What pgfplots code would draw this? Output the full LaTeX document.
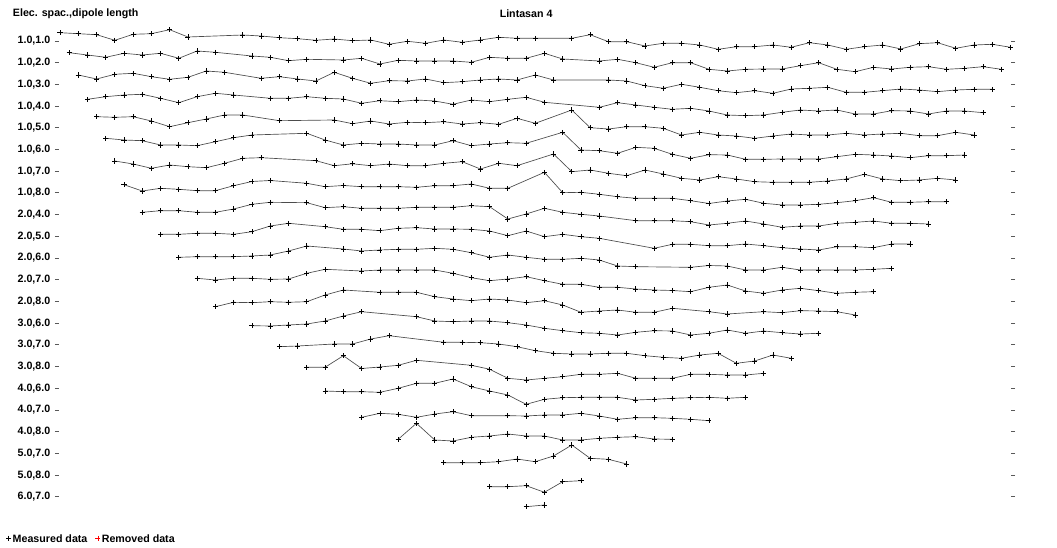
\documentclass[border=0pt]{standalone}
\usepackage{pgfplots}
\pgfplotsset{compat=1.18}
\usepackage{fontspec}
\setmainfont{Liberation Sans}
\newcommand{\lf}{\bfseries\fontsize{8}{9}\selectfont}
\tikzset{ln/.style={line width=0.5pt, black!70, mark=+, mark size=1.9pt, mark options={black, line width=0.6pt, solid}}}
\begin{document}
\begin{tikzpicture}
\begin{axis}[
  scale only axis,
  width=714pt, height=367.5pt,
  xmin=1.4453, xmax=53.524,
  ymin=25, ymax=515, y dir=reverse,
  clip=false,
  axis line style={draw=none},
  xtick=\empty,
  ytick={41,62.71,84.42,106.13,127.84,149.55,171.26,192.97,214.68,236.39,258.1,279.81,301.52,323.23,344.94,366.65,388.36,410.07,431.78,453.49,475.2,496.91},
  yticklabels={{1.0,1.0},{1.0,2.0},{1.0,3.0},{1.0,4.0},{1.0,5.0},{1.0,6.0},{1.0,7.0},{1.0,8.0},{2.0,4.0},{2.0,5.0},{2.0,6.0},{2.0,7.0},{2.0,8.0},{3.0,6.0},{3.0,7.0},{3.0,8.0},{4.0,6.0},{4.0,7.0},{4.0,8.0},{5.0,7.0},{5.0,8.0},{6.0,7.0}},
  tick align=outside,
  major tick length=3pt,
  ytick style={line width=0.7pt, black!65},
  yticklabel style={font=\lf, black},
  legend columns=2,
  legend style={at={(axis cs:-1.45,540)}, anchor=west, draw=none, fill=none, inner sep=0pt, font=\lf,
    nodes={inner xsep=1pt, inner ysep=0.5pt},
    /tikz/every even column/.append style={column sep=5pt}},
  legend image code/.code={\draw[#1] plot coordinates {(0pt,1.4pt)};},
]
\addplot[ln] coordinates {(1.5,32.7)(2.5,33.7)(3.5,34.7)(4.5,40.3)(5.5,34.3)(6.5,33.7)(7.5,29.7)(8.5,37)(11.5,35)(12.5,36)(13.5,37.7)(14.5,38.7)(15.5,40.3)(16.5,39)(17.5,40.7)(18.5,40)(19.5,44.3)(20.5,41.3)(21.5,43.3)(22.5,40)(23.5,42.3)(24.5,40)(25.5,37.3)(26.5,38.3)(27.5,38.3)(29.5,38.3)(30.5,34.7)(31.5,41.7)(32.5,41.7)(33.5,46)(34.5,43.3)(35.5,43.3)(36.5,45)(37.5,49.3)(38.5,46.7)(39.5,46.7)(40.5,45)(41.5,47.3)(42.5,42.7)(43.5,45)(44.5,49.3)(45.5,46.7)(46.5,45)(47.5,49)(48.5,43.7)(49.5,42.7)(50.5,48.3)(51.5,45)(52.5,44.3)(53.5,47.3)};
\addlegendentry{Measured data}
\addplot[ln,forget plot] coordinates {(2,52.7)(3,55)(4,57.3)(5,53.3)(6,55)(7,53.3)(8,58.3)(9,51)(10,52.3)(12,56)(13,57.3)(14,60.7)(15,59.3)(17,60)(18,58.3)(19,64)(20,60.3)(21,61)(22,61)(23,61)(24,62.3)(25,57.3)(26,58.3)(27,58.3)(28,53.3)(29,59)(31,61)(32,59.3)(33,62.7)(34,67.3)(35,62.7)(36,62.7)(37,69.3)(38,71)(39,69.3)(40,69)(41,69)(42,65.7)(43,62.7)(44,69.3)(45,71.7)(46,67.3)(47,69)(48,67.3)(49,66.7)(50,69.3)(51,68.3)(52,66.7)(53,69.3)};
\addplot[ln,forget plot] coordinates {(2.5,75)(3.5,79)(4.5,74.3)(5.5,73.3)(6.5,76.7)(7.5,79.3)(8.5,77.3)(9.5,71)(10.5,72.3)(12.5,78.3)(13.5,76.7)(14.5,79)(15.5,81)(16.5,72.3)(17.5,78.3)(18.5,83.3)(19.5,80.7)(20.5,81)(21.5,79)(22.5,82.7)(23.5,81.7)(24.5,80)(25.5,79)(26.5,80)(27.5,75)(28.5,80)(31.5,80)(32.5,81)(33.5,85.7)(34.5,88.3)(35.5,84.3)(36.5,87.3)(37.5,90.7)(38.5,92.7)(39.5,90.7)(40.5,93.3)(41.5,89)(42.5,88.3)(43.5,87.3)(44.5,92.3)(45.5,92.3)(46.5,90.7)(47.5,89)(48.5,90)(49.5,91.7)(50.5,90)(51.5,89.3)(52.5,89.3)};
\addplot[ln,forget plot] coordinates {(3,99.3)(4,96.7)(5,95)(6,94.3)(7,98.3)(8,102.7)(9,96.7)(10,93.3)(11,95)(13,98.3)(14,98.3)(15,96.7)(16,98.3)(17,99)(18,103.3)(19,100.7)(20,101.7)(21,100)(22,101)(23,104.3)(24,100)(25,101.7)(26,99.3)(27,97.3)(28,102.3)(31,107.3)(32,102.7)(33,105)(34,107.3)(35,109.3)(36,108.3)(37,111)(38,115)(39,115.7)(40,115)(41,112.3)(42,110)(43,111)(44,110)(45,114)(46,114)(47,110.7)(48,111)(49,114)(50,111)(51,111)(52,112.7)};
\addplot[ln,forget plot] coordinates {(3.5,116.7)(4.5,117.3)(5.5,116.7)(6.5,121)(7.5,126.7)(8.5,122.7)(9.5,119)(10.5,115)(11.5,115)(13.5,120.7)(16.5,120)(17.5,123.7)(18.5,121)(19.5,124)(20.5,122.3)(21.5,122.7)(22.5,121.7)(23.5,124)(24.5,122.7)(25.5,124.3)(26.5,118.3)(27.5,123.3)(29.5,110)(30.5,127.7)(31.5,129)(32.5,126.7)(33.5,126.7)(34.5,128.3)(35.5,135)(36.5,132.3)(37.5,135)(38.5,136)(39.5,138.3)(40.5,136)(41.5,134)(42.5,135)(43.5,135)(44.5,133.3)(45.5,135)(46.5,134)(47.5,133.3)(48.5,135.7)(49.5,135.7)(50.5,132.3)(51.5,135)};
\addplot[ln,forget plot] coordinates {(4,138.3)(5,140)(6,140.7)(7,145)(8,145)(9,145.7)(10,141.7)(11,137.7)(12,135)(15,133.3)(16,140)(17,145)(18,143.3)(19,144)(20,144)(21,145)(22,145)(23,140.7)(24,145.7)(25,144)(26,142.7)(27,143.3)(29,132.3)(30,150)(31,150.7)(32,153.3)(33,147.3)(34,148.3)(35,154.3)(36,158.3)(37,154.7)(38,155)(39,159.3)(40,159.3)(41,159)(42,159)(43,159)(44,156.7)(45,154.3)(46,155)(47,156)(48,157.7)(49,155.7)(50,155.7)(51,155)};
\addplot[ln,forget plot] coordinates {(4.5,161)(5.5,164)(6.5,168.3)(7.5,165)(8.5,166.7)(9.5,167.7)(10.5,163.3)(11.5,158.3)(12.5,157.7)(15.5,160.7)(16.5,165.7)(17.5,163.8)(18.5,165.7)(19.5,164)(20.5,165.7)(21.5,165.7)(22.5,163.3)(23.5,161.7)(24.5,169)(25.5,163.3)(26.5,165.7)(28.5,154)(29.5,171.7)(30.5,170)(31.5,173.3)(32.5,175.7)(33.5,170)(34.5,174)(35.5,178.3)(36.5,180)(37.5,176.7)(38.5,179)(39.5,181.7)(40.5,182.3)(41.5,182.3)(42.5,182.3)(43.5,181)(44.5,179)(45.5,174.3)(46.5,179)(47.5,180.7)(48.5,180)(49.5,178.3)(50.5,180)};
\addplot[ln,forget plot] coordinates {(5,184.7)(6,191)(7,188.3)(8,189.3)(9,190.7)(10,190.7)(11,185.7)(12,181.5)(13,180.5)(15,183.3)(16,186.7)(17,185.5)(18,186.7)(19,186.7)(20,186.7)(21,187.3)(22,185.7)(23,185.7)(24,184)(25,188.3)(26,188.3)(28,172.3)(29,192.7)(30,192.3)(31,194.3)(32,196.7)(33,198.3)(34,198.3)(35,198.3)(36,200.7)(37,203.5)(38,201)(39,199.3)(40,203.3)(41,205)(42,205)(43,204.3)(44,202.7)(45,200.7)(46,197.7)(47,202.3)(48,202.3)(49,201.7)(50,201.7)};
\addplot[ln,forget plot] coordinates {(6,212.3)(7,210.7)(8,210.7)(9,212.3)(10,212.3)(11,209)(12,204.3)(13,202.3)(15,202.7)(16,207.7)(17,206.7)(18,208.3)(19,208.3)(20,208.3)(21,207.3)(22,207.3)(23,207.3)(24,205.7)(25,206.7)(26,219)(27,214)(28,208.3)(29,212.3)(30,214.3)(31,216)(33,220.7)(34,220.7)(35,220.7)(36,221.7)(37,225)(38,223.3)(39,221)(40,224)(41,227.3)(42,226)(43,226)(44,223.3)(45,222.3)(46,221)(47,223.3)(48,223.3)(49,224)};
\addplot[ln,forget plot] coordinates {(7,234.3)(8,234.3)(9,233.3)(10,233.3)(11,234.3)(12,231.7)(13,226)(14,223.3)(16,226.7)(17,229.3)(18,229.3)(19,230.7)(20,228.3)(21,227.7)(22,229)(23,229)(24,229.3)(25,231)(26,235.7)(27,231)(28,236.7)(29,234.3)(30,236.7)(31,238.3)(34,248.3)(35,244.3)(36,244.3)(37,245.7)(38,245.7)(39,244)(40,245.7)(41,247.7)(42,249)(43,250)(44,246.7)(45,246.7)(46,247.7)(47,244)(48,244)};
\addplot[ln,forget plot] coordinates {(8,257.3)(9,256.7)(10,256.7)(11,256.7)(12,256)(13,255)(14,251)(15,246)(17,249)(18,251)(19,250)(20,249.3)(21,249.3)(22,248.3)(23,249.3)(24,252.7)(25,257.3)(26,255)(27,257.3)(28,259.3)(29,259.3)(30,258.3)(31,260)(32,266)(33,266.7)(36,267.3)(37,265.5)(38,266)(39,270)(40,270)(41,267.3)(42,270)(43,270)(44,270)(45,270)(46,269.3)(47,268.3)};
\addplot[ln,forget plot] coordinates {(9,278.3)(10,280)(11,278.3)(12,278.3)(13,279.3)(14,279)(15,273.3)(16,269.3)(18,271)(19,270)(20,270)(21,270)(22,270)(23,273.3)(24,277.7)(25,280.7)(26,279)(27,276.7)(28,280.7)(29,284.3)(30,284.3)(31,287.3)(32,287.3)(33,289)(34,290)(35,290.5)(36,291.7)(37,287.3)(38,285)(39,291)(40,293.3)(41,290)(42,288.3)(43,290.7)(44,293.3)(45,292.3)(46,291.7)};
\addplot[ln,forget plot] coordinates {(10,306.7)(11,302.3)(12,302.7)(13,301.7)(14,302.3)(15,301.7)(16,295)(17,290)(19,292.3)(20,292.3)(21,292.3)(22,296.7)(23,299)(24,300.7)(25,299)(26,300)(27,302.7)(28,300.7)(29,305)(30,312.3)(31,311)(32,310)(33,312.3)(34,312.3)(35,308.3)(37,311.7)(38,314)(40,311.7)(41,312.7)(42,310.7)(43,311)(44,311.7)(45,315)};
\addplot[ln,forget plot] coordinates {(12,325.7)(13,326)(14,325)(15,324)(16,321)(17,316)(18,311.7)(21,316.7)(22,321)(23,321.7)(24,321)(25,321)(26,322.7)(27,325)(28,328.3)(29,330.7)(30,332.7)(31,333.3)(32,335)(33,332.3)(34,330.7)(35,331)(36,335)(37,333.3)(38,330)(39,333.3)(40,331)(41,332.7)(42,334)(43,333.3)};
\addplot[ln,forget plot] coordinates {(13.5,346.7)(14.5,346)(16.5,344)(17.5,344)(18.5,339)(19.5,335.7)(22.5,342.3)(23.5,342.3)(24.5,342.7)(25.5,344)(26.5,346.7)(27.5,350.7)(28.5,353.3)(29.5,354)(30.5,354)(31.5,353.3)(32.5,353.3)(33.5,355.7)(34.5,357.3)(35.5,358.3)(36.5,355)(37.5,353.3)(38.5,363.3)(39.5,361)(40.5,355)(41.5,358.3)};
\addplot[ln,forget plot] coordinates {(15,367.3)(16,367.3)(17,355.7)(18,368.5)(19,367)(20,365.3)(21,360.3)(24,365.3)(25,369.2)(26,378.3)(27,380)(28,378.3)(29,376.7)(30,374.3)(31,374.3)(32,373.3)(33,378.3)(34,378.3)(35,378.3)(36,374.3)(37,374.3)(38,375)(39,375)(40,373.3)};
\addplot[ln,forget plot] coordinates {(16,391)(17,391.7)(18,391.7)(19,392.3)(20,388.3)(21,383.3)(22,383.3)(23,379)(24,386.7)(25,391)(26,395)(27,404.3)(28,399.3)(29,397.7)(30,397.3)(31,397.3)(32,397.3)(33,400)(34,399.3)(35,398.3)(36,397.7)(37,397.3)(38,398.3)(39,397.3)};
\addplot[ln,forget plot] coordinates {(18,417.3)(19,413.3)(20,414.3)(21,417.3)(22,414)(23,411.7)(24,415.7)(26,415.7)(27,416)(28,415)(29,415)(30,413.3)(31,416)(32,419.3)(33,417.7)(34,417.7)(35,418.3)(36,419.3)(37,420.7)};
\addplot[ln,forget plot] coordinates {(20,439.3)(21,423.3)(22,440)(23,441)(24,437.3)(25,436)(26,434)(27,436)(28,436)(29,440)(30,440)(31,438.3)(32,437.3)(33,436.7)(34,439)(35,439.3)};
\addplot[ln,forget plot] coordinates {(22.5,462.7)(23.5,462.7)(24.5,462.7)(25.5,461.7)(26.5,459)(27.5,461.7)(28.5,456)(29.5,445)(30.5,458.3)(31.5,459.3)(32.5,464)};
\addplot[ln,forget plot] coordinates {(25,486.7)(26,486.7)(27,485.7)(28,492.3)(29,481.7)(30,480.7)};
\addplot[ln,forget plot] coordinates {(27,506.7)(28,505)};
\addlegendimage{red, mark=+, mark size=1.9pt, mark options={line width=0.6pt}}
\addlegendentry{Removed data}
\node[anchor=west, font=\lf, inner sep=0pt] at (axis cs:-1.088,13.5) {Elec. spac.,dipole length};
\node[font=\lf, inner sep=0pt] at (axis cs:27,14) {Lintasan 4};
\coordinate (bbA) at (axis cs:-1.78228,0);
\coordinate (bbB) at (axis cs:56.0405,548);
\end{axis}
\pgfresetboundingbox
\useasboundingbox (bbA) rectangle (bbB);
\end{tikzpicture}
\end{document}
